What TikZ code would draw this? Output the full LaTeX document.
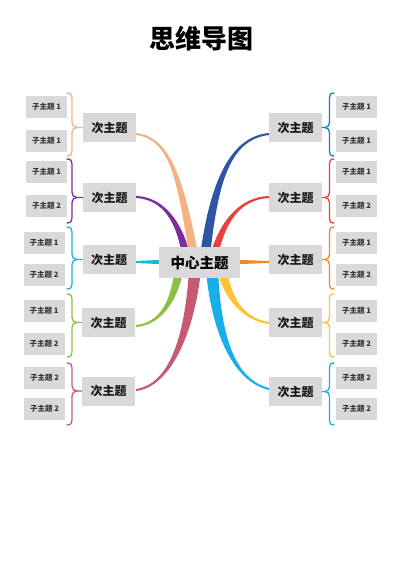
\documentclass[tikz,border=0pt]{standalone}
\usepackage{fontspec}
\newfontfamily\cjk{Noto Sans CJK SC}
\usetikzlibrary{calc,backgrounds}
\definecolor{boxgray}{HTML}{D9D9D9}
\definecolor{cpeach}{HTML}{F4B183}
\definecolor{cpurple}{HTML}{7B2C9E}
\definecolor{ccyan}{HTML}{1CB5D5}
\definecolor{cgreen}{HTML}{8DC043}
\definecolor{crose}{HTML}{C65A73}
\definecolor{cnavy}{HTML}{2E55A5}
\definecolor{cblue}{HTML}{1A78C8}
\definecolor{cred}{HTML}{E8403A}
\definecolor{corange}{HTML}{F08A24}
\definecolor{cyellow}{HTML}{FFC234}
\definecolor{csky}{HTML}{18AEE8}
\tikzset{
  subbox/.style={fill=boxgray, minimum width=41pt, minimum height=22pt, inner sep=0pt,
    font=\cjk\bfseries\fontsize{7.5}{8}\selectfont, text=black!80},
  secbox/.style={fill=boxgray, minimum width=53pt, minimum height=29pt, inner sep=0pt,
    font=\cjk\bfseries\fontsize{12}{13}\selectfont, text=black!90},
  centerbox/.style={fill=boxgray, minimum width=81pt, minimum height=31pt, inner sep=0pt,
    font=\cjk\bfseries\fontsize{14.5}{15}\selectfont, text=black},
  titletext/.style={font=\cjk\bfseries\fontsize{26}{28}\selectfont, text=black},
  bracestroke/.style={line width=1.3pt, line cap=round}
}
% tapered branch: color, sign, start, c1, c2, end, end half-width
\newcommand\tbranch[7]{%
  \fill[#1] ($(#3)+(0,-1)$) .. controls ($(#4)+(0,-1.5)$) and ($(#5)+({#2*#7*0.8},0)$) .. ($(#6)+({#2*#7},0)$)
    -- ($(#6)+({-1*#2*#7},0)$) .. controls ($(#5)+({-1*#2*#7*0.8},0)$) and ($(#4)+(0,1.5)$) .. ($(#3)+(0,1)$) -- cycle;}
% left brace: color, top, middle, bottom, node
\newcommand\lbr[5]{%
  \draw[bracestroke,#1] (67,#2) .. controls (71,#2) and (72,{#2+2}) .. (72,{#2+5}) -- (72,{#3-5})
    .. controls (72,{#3-2}) and (74,#3) .. (77,#3) -- (#5.west);
  \draw[bracestroke,#1] (77,#3) .. controls (74,#3) and (72,{#3+2}) .. (72,{#3+5}) -- (72,{#4-5})
    .. controls (72,{#4-2}) and (71,#4) .. (67,#4);}
\newcommand\rbr[5]{%
  \draw[bracestroke,#1] (334,#2) .. controls (330,#2) and (329.5,{#2+2}) .. (329.5,{#2+5}) -- (329.5,{#3-5})
    .. controls (329.5,{#3-2}) and (327.5,#3) .. (325,#3) -- (#5.east);
  \draw[bracestroke,#1] (325,#3) .. controls (327.5,#3) and (329.5,{#3+2}) .. (329.5,{#3+5}) -- (329.5,{#4-5})
    .. controls (329.5,{#4-2}) and (330,#4) .. (334,#4);}
\begin{document}
\begin{tikzpicture}[x=1pt,y=-1pt]
\useasboundingbox (0,0) rectangle (400,565);
\node[titletext] (title) at (201,39) {思维导图};
\node[centerbox] (c) at (199.5,262.5) {中心主题};
% secondary nodes
\node[secbox] (l1) at (109.5,127.5) {次主题};
\node[secbox] (l2) at (109.5,197.5) {次主题};
\node[secbox] (l3) at (109,259.5) {次主题};
\node[secbox] (l4) at (108.5,322.5) {次主题};
\node[secbox] (l5) at (108.5,391) {次主题};
\node[secbox] (r1) at (295.5,127.5) {次主题};
\node[secbox] (r2) at (295.5,197.5) {次主题};
\node[secbox] (r3) at (295.5,259.5) {次主题};
\node[secbox] (r4) at (295.5,322.5) {次主题};
\node[secbox] (r5) at (295.5,391.5) {次主题};
% sub nodes left
\node[subbox] (la1) at (46.5,107) {子主题 1};
\node[subbox] (la2) at (46.5,140.5) {子主题 1};
\node[subbox] (lb1) at (46.5,172) {子主题 1};
\node[subbox] (lb2) at (46.5,205.5) {子主题 2};
\node[subbox] (lc1) at (44,243) {子主题 1};
\node[subbox] (lc2) at (44,275) {子主题 2};
\node[subbox] (ld1) at (44,311) {子主题 1};
\node[subbox] (ld2) at (44,344) {子主题 2};
\node[subbox] (le1) at (44.5,378) {子主题 2};
\node[subbox] (le2) at (44.5,409) {子主题 2};
% sub nodes right
\node[subbox] (ra1) at (356.5,107) {子主题 1};
\node[subbox] (ra2) at (356.5,140.5) {子主题 1};
\node[subbox] (rb1) at (356.5,172) {子主题 1};
\node[subbox] (rb2) at (356.5,205.5) {子主题 2};
\node[subbox] (rc1) at (356.5,243) {子主题 1};
\node[subbox] (rc2) at (356.5,275) {子主题 2};
\node[subbox] (rd1) at (356.5,311) {子主题 1};
\node[subbox] (rd2) at (356.5,344) {子主题 2};
\node[subbox] (re1) at (356.5,378) {子主题 2};
\node[subbox] (re2) at (356.5,409) {子主题 2};
% braces
\lbr{cpeach}{93}{127.5}{156}{l1}
\lbr{cpurple}{159}{197.5}{223}{l2}
\lbr{ccyan}{227}{259.5}{289}{l3}
\lbr{cgreen}{294}{322.5}{357}{l4}
\lbr{crose}{363}{391}{425}{l5}
\rbr{cblue}{93}{127.5}{156}{r1}
\rbr{cred}{159}{197.5}{223}{r2}
\rbr{corange}{227}{259.5}{289}{r3}
\rbr{cyellow}{294}{322.5}{357}{r4}
\rbr{csky}{363}{391.5}{425}{r5}
% branches
\begin{scope}[on background layer]
\coordinate (sl1) at (136,134); \coordinate (al1) at (172,138); \coordinate (bl1) at (181,185); \coordinate (el1) at (194,256);
\coordinate (sl2) at (136,197); \coordinate (al2) at (163,198); \coordinate (bl2) at (180,222); \coordinate (el2) at (186,256);
\coordinate (sl4) at (136,326); \coordinate (al4) at (160,324); \coordinate (bl4) at (174,302); \coordinate (el4) at (179,270);
\coordinate (sl5) at (136,390); \coordinate (al5) at (172,385); \coordinate (bl5) at (190,330); \coordinate (el5) at (195,270);
\coordinate (sr1) at (269,134); \coordinate (ar1) at (230,138); \coordinate (br1) at (214,182); \coordinate (er1) at (205,256);
\coordinate (sr2) at (269,197); \coordinate (ar2) at (240,198); \coordinate (br2) at (222,222); \coordinate (er2) at (214,256);
\coordinate (sr4) at (269,323); \coordinate (ar4) at (245,320); \coordinate (br4) at (228,300); \coordinate (er4) at (222,270);
\coordinate (sr5) at (269,389); \coordinate (ar5) at (232,380); \coordinate (br5) at (216,330); \coordinate (er5) at (212,270);
\tbranch{cpurple}{1}{sl2}{al2}{bl2}{el2}{4}
\tbranch{cpeach}{1}{sl1}{al1}{bl1}{el1}{4.5}
\tbranch{cred}{-1}{sr2}{ar2}{br2}{er2}{4}
\tbranch{cnavy}{-1}{sr1}{ar1}{br1}{er1}{5}
\tbranch{cgreen}{-1}{sl4}{al4}{bl4}{el4}{4.5}
\tbranch{crose}{-1}{sl5}{al5}{bl5}{el5}{6}
\tbranch{cyellow}{1}{sr4}{ar4}{br4}{er4}{5}
\tbranch{csky}{1}{sr5}{ar5}{br5}{er5}{6}
\fill[ccyan] (l3.east |- 0,261) -- (163,259.8) -- (163,264.2) -- (l3.east |- 0,263) -- cycle;
\fill[corange] (236,259.8) -- (r3.west |- 0,261) -- (r3.west |- 0,263) -- (236,264.2) -- cycle;
\end{scope}
\end{tikzpicture}
\end{document}
